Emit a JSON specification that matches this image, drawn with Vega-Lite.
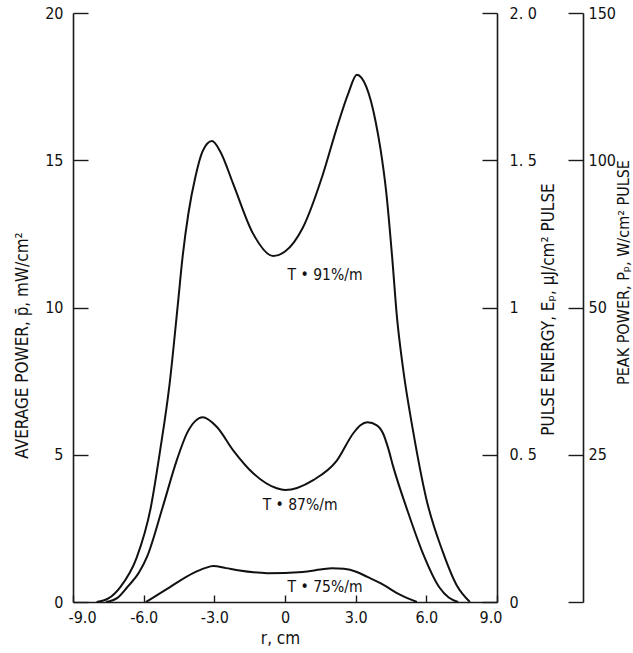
{
  "$schema": "https://vega.github.io/schema/vega-lite/v6.json",
  "width": 424,
  "height": 589,
  "autosize": "none",
  "padding": {"left": 73, "top": 13, "right": 136, "bottom": 51},
  "background": "white",
  "config": {
    "view": {"stroke": null},
    "font": "Liberation Sans Narrow, DejaVu Sans Condensed, sans-serif",
    "axis": {
      "grid": false,
      "domainColor": "#1a1a1a",
      "domainWidth": 1.6,
      "tickColor": "#1a1a1a",
      "tickWidth": 1.4,
      "labelColor": "#111",
      "titleColor": "#111",
      "labelFont": "Liberation Sans Narrow, DejaVu Sans Condensed, sans-serif",
      "titleFont": "Liberation Sans Narrow, DejaVu Sans Condensed, sans-serif",
      "labelFontSize": 16,
      "titleFontSize": 17,
      "titleFontWeight": "normal"
    }
  },
  "datasets": {
    "curves": [
      {"series": "91%", "r": -8.0, "v": 0},
      {"series": "91%", "r": -7.5, "v": 0.12},
      {"series": "91%", "r": -7.0, "v": 0.5},
      {"series": "91%", "r": -6.3, "v": 1.5},
      {"series": "91%", "r": -5.7, "v": 3.2},
      {"series": "91%", "r": -5.3, "v": 5.15},
      {"series": "91%", "r": -4.9, "v": 7.4},
      {"series": "91%", "r": -4.55, "v": 10.1},
      {"series": "91%", "r": -4.35, "v": 11.7},
      {"series": "91%", "r": -4.1, "v": 13.2},
      {"series": "91%", "r": -3.8, "v": 14.45},
      {"series": "91%", "r": -3.5, "v": 15.3},
      {"series": "91%", "r": -3.1, "v": 15.65},
      {"series": "91%", "r": -2.75, "v": 15.3},
      {"series": "91%", "r": -2.2, "v": 14.2},
      {"series": "91%", "r": -1.35, "v": 12.5},
      {"series": "91%", "r": -0.5, "v": 11.75},
      {"series": "91%", "r": 0.0, "v": 11.9},
      {"series": "91%", "r": 0.75, "v": 12.7},
      {"series": "91%", "r": 1.6, "v": 14.5},
      {"series": "91%", "r": 2.2, "v": 16.1},
      {"series": "91%", "r": 2.7, "v": 17.3},
      {"series": "91%", "r": 3.05, "v": 17.9},
      {"series": "91%", "r": 3.25, "v": 17.8},
      {"series": "91%", "r": 3.45, "v": 17.5},
      {"series": "91%", "r": 3.65, "v": 17.0},
      {"series": "91%", "r": 3.85, "v": 16.3},
      {"series": "91%", "r": 4.05, "v": 15.4},
      {"series": "91%", "r": 4.3, "v": 13.9},
      {"series": "91%", "r": 4.55, "v": 11.7},
      {"series": "91%", "r": 4.75, "v": 9.7},
      {"series": "91%", "r": 5.0, "v": 8.0},
      {"series": "91%", "r": 5.45, "v": 5.75},
      {"series": "91%", "r": 6.0, "v": 3.5},
      {"series": "91%", "r": 6.7, "v": 1.7},
      {"series": "91%", "r": 7.3, "v": 0.55},
      {"series": "91%", "r": 7.85, "v": 0},
      {"series": "87%", "r": -7.6, "v": 0},
      {"series": "87%", "r": -7.1, "v": 0.15},
      {"series": "87%", "r": -6.7, "v": 0.5},
      {"series": "87%", "r": -6.2, "v": 1.0},
      {"series": "87%", "r": -5.85, "v": 1.55},
      {"series": "87%", "r": -5.2, "v": 3.2},
      {"series": "87%", "r": -4.6, "v": 4.8},
      {"series": "87%", "r": -4.15, "v": 5.75},
      {"series": "87%", "r": -3.8, "v": 6.15},
      {"series": "87%", "r": -3.5, "v": 6.27},
      {"series": "87%", "r": -2.9, "v": 5.95},
      {"series": "87%", "r": -2.2, "v": 5.15},
      {"series": "87%", "r": -1.35, "v": 4.37},
      {"series": "87%", "r": -0.35, "v": 3.86},
      {"series": "87%", "r": 0.0, "v": 3.8},
      {"series": "87%", "r": 1.2, "v": 4.14},
      {"series": "87%", "r": 2.2, "v": 4.8},
      {"series": "87%", "r": 2.9, "v": 5.73},
      {"series": "87%", "r": 3.2, "v": 6.0},
      {"series": "87%", "r": 3.5, "v": 6.1},
      {"series": "87%", "r": 3.9, "v": 6.0},
      {"series": "87%", "r": 4.16, "v": 5.73},
      {"series": "87%", "r": 4.37, "v": 5.25},
      {"series": "87%", "r": 4.6, "v": 4.58},
      {"series": "87%", "r": 5.2, "v": 3.1},
      {"series": "87%", "r": 5.85, "v": 1.66},
      {"series": "87%", "r": 6.55, "v": 0.5},
      {"series": "87%", "r": 6.95, "v": 0.15},
      {"series": "87%", "r": 7.35, "v": 0},
      {"series": "75%", "r": -5.9, "v": 0},
      {"series": "75%", "r": -4.9, "v": 0.5},
      {"series": "75%", "r": -3.9, "v": 0.98},
      {"series": "75%", "r": -3.4, "v": 1.15},
      {"series": "75%", "r": -3.05, "v": 1.22},
      {"series": "75%", "r": -2.5, "v": 1.15},
      {"series": "75%", "r": -2.0, "v": 1.08},
      {"series": "75%", "r": -0.75, "v": 0.98},
      {"series": "75%", "r": 0.75, "v": 1.02},
      {"series": "75%", "r": 1.5, "v": 1.1},
      {"series": "75%", "r": 2.0, "v": 1.15},
      {"series": "75%", "r": 2.5, "v": 1.13},
      {"series": "75%", "r": 3.05, "v": 1.02},
      {"series": "75%", "r": 3.5, "v": 0.85},
      {"series": "75%", "r": 4.05, "v": 0.64},
      {"series": "75%", "r": 4.9, "v": 0.24},
      {"series": "75%", "r": 5.6, "v": 0}
    ],
    "labels": [
      {"label": "T • 91%/m", "r": 1.7, "v": 11.1},
      {"label": "T • 87%/m", "r": 0.64, "v": 3.29},
      {"label": "T • 75%/m", "r": 1.7, "v": 0.5}
    ]
  },
  "layer": [
    {
      "data": {"name": "curves"},
      "transform": [{"filter": "datum.series != '75%'"}],
      "mark": {"type": "line", "interpolate": "monotone", "color": "#111", "strokeWidth": 2},
      "encoding": {
        "x": {
          "field": "r", "type": "quantitative",
          "scale": {"domain": [-9, 9], "nice": false, "zero": false},
          "axis": {
            "orient": "bottom",
            "values": [-9, -6, -3, 0, 3, 6, 9],
            "labelExpr": "datum.value == 0 ? '0' : (datum.value < 0 ? '-' : '') + format(abs(datum.value), '.1f')",
            "tickSize": -7,
            "labelPadding": 14,
            "labelFlush": true,
            "labelFlushOffset": 5,
            "title": "r, cm",
            "titleX": 207,
            "titleY": 36,
            "titleBaseline": "middle",
            "titleAlign": "center"
          }
        },
        "y": {
          "field": "v", "type": "quantitative",
          "scale": {"domain": [0, 20], "nice": false},
          "axis": {
            "orient": "left",
            "values": [0, 5, 10, 15, 20],
            "tickSize": -15,
            "labelPadding": 25,
            "title": "AVERAGE POWER, p̄, mW/cm²",
            "titleAngle": 270,
            "titleAlign": "center",
            "titleBaseline": "middle",
            "titleX": -51,
            "titleY": 332
          }
        },
        "detail": {"field": "series"}
      }
    },
    {
      "data": {"name": "labels"},
      "mark": {"type": "text", "fontSize": 15.5, "color": "#111", "font": "Liberation Sans Narrow, DejaVu Sans Condensed, sans-serif"},
      "encoding": {
        "x": {"field": "r", "type": "quantitative"},
        "y": {
          "field": "v", "type": "quantitative",
          "axis": {
            "orient": "right",
            "values": [0, 5, 10, 15, 20],
            "labelExpr": "datum.value == 0 ? '0' : datum.value == 5 ? '0. 5' : datum.value == 10 ? '1' : datum.value == 15 ? '1. 5' : '2. 0'",
            "tickSize": -15,
            "labelPadding": 27,
            "title": "PULSE ENERGY, Eₚ, μJ/cm² PULSE",
            "titleAngle": 270,
            "titleAlign": "center",
            "titleBaseline": "middle",
            "titleX": 51,
            "titleY": 296
          }
        },
        "text": {"field": "label"}
      }
    },
    {
      "data": {"name": "curves"},
      "transform": [{"filter": "datum.series == '75%'"}],
      "mark": {"type": "line", "interpolate": "monotone", "color": "#111", "strokeWidth": 2},
      "encoding": {
        "x": {"field": "r", "type": "quantitative"},
        "y": {
          "field": "v", "type": "quantitative",
          "axis": {
            "orient": "right",
            "offset": 86,
            "values": [0, 5, 10, 15, 20],
            "labelExpr": "datum.value == 0 ? '' : datum.value == 5 ? '25' : datum.value == 10 ? '50' : datum.value == 15 ? '100' : '150'",
            "tickSize": -15,
            "labelPadding": 20,
            "title": "PEAK POWER, Pₚ, W/cm² PULSE",
            "titleFontSize": 16,
            "titleAngle": 270,
            "titleAlign": "center",
            "titleBaseline": "middle",
            "titleX": 40,
            "titleY": 259
          }
        }
      }
    }
  ],
  "resolve": {"axis": {"y": "independent"}}
}
